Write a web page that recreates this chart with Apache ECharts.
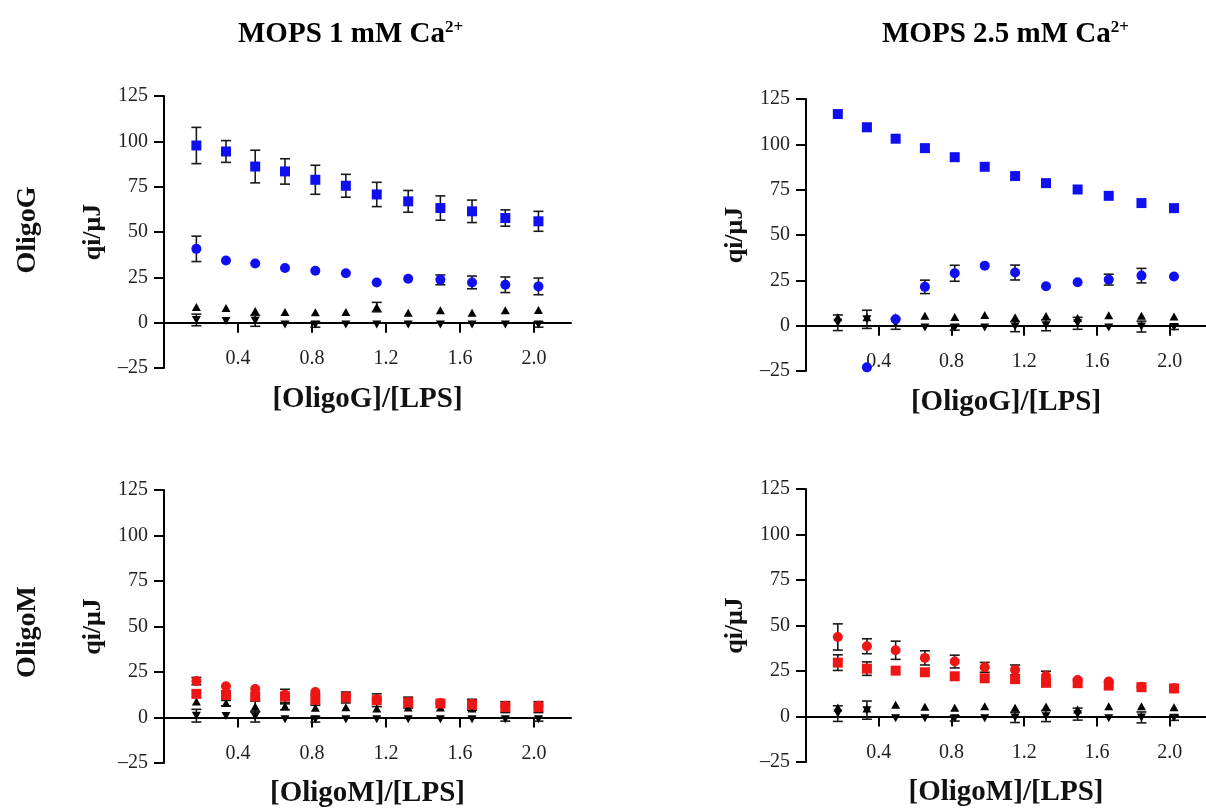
<!DOCTYPE html>
<html>
<head>
<meta charset="utf-8">
<script src="https://cdn.jsdelivr.net/npm/echarts@6/dist/echarts.min.js"></script>
<style>
html,body{margin:0;padding:0;background:#fff;}
#chart{width:1206px;height:811px;}
</style>
</head>
<body>
<div id="chart"></div>
<script>
// ---------- data ----------
const xRatio = [0.175, 0.335, 0.493, 0.654, 0.818, 0.983, 1.15, 1.32, 1.494, 1.665, 1.845, 2.024];
const xTickValues = [0.4, 0.8, 1.2, 1.6, 2.0];
const yTickValues = [-25, 0, 25, 50, 75, 100, 125];
const colTitles = ['MOPS 1 mM Ca', 'MOPS 2.5 mM Ca'];
const colTitleSup = ['2+', '2+'];
const rowLabels = ['OligoG', 'OligoM'];
const xAxisNames = ['[OligoG]/[LPS]', '[OligoM]/[LPS]'];
const yAxisName = 'qi/μJ';

// OligoG, MOPS 1 mM Ca2+
const g1Square    = [97.7, 94.4, 86.1, 83.4, 78.8, 75.5, 70.7, 66.9, 63.2, 61.4, 57.7, 55.9];
const g1SquareErr = [10, 6, 9, 7, 8, 6.3, 6.7, 6, 6.7, 6.2, 4.5, 5.5];
const g1Circle    = [40.7, 34.3, 32.6, 30.1, 28.6, 27.3, 22.2, 24.2, 23.6, 22.2, 20.9, 20.0];
const g1CircleErr = [7, 0, 0, 0, 0, 0, 0, 0, 2.7, 3.5, 4.3, 4.6];
const g1Up        = [8.6, 8.1, 6.4, 5.9, 5.7, 5.9, 8.6, 5.5, 6.8, 5.5, 6.8, 7.0];
const g1UpErr     = [0, 0, 0, 0, 0, 0, 2.6, 0, 0, 0, 0, 0];
const g1Down      = [1.5, 0.9, 1.0, -1, -1, -1, -1, -1, -1, -1, -1, -1];
const g1DownErr   = [3.2, 0, 3, 0, 1.5, 0, 0, 0, 0, 0, 0, 1.5];

// OligoG, MOPS 2.5 mM Ca2+
const g25Square    = [116.7, 109.4, 103.1, 97.9, 92.9, 87.6, 82.5, 78.6, 75.1, 71.6, 67.6, 64.8];
const g25SquareErr = [0, 2, 0, 1.8, 0, 0, 0, 0, 0, 0, 0, 0];
const g25Circle    = [null, -23, 3.5, 21.4, 28.9, 33.1, 29.3, 21.7, 23.9, 25.4, 27.6, 27.1];
const g25CircleErr = [0, 0, 0, 3.7, 4.4, 0, 4.1, 0, 0, 3, 4, 0];
const g25Up        = [4.6, 4.6, 4.6, 5.5, 4.8, 5.9, 4.6, 5.3, 4.2, 5.7, 5.5, 5.0];
const g25UpErr     = [0, 0, 0, 0, 0, 0, 0, 0, 0, 0, 0, 0];
const g25Down      = [1.6, 3.5, 1.0, -1, -1, -1, -0.5, 0.2, 1.3, -1, -0.5, -0.7];
const g25DownErr   = [4.3, 5, 3, 0, 1.5, 0, 2.8, 3, 3.3, 0, 3, 1.4];

// OligoM, MOPS 1 mM Ca2+
const m1Square    = [13, 12.4, 11.5, 11.5, 9.7, 11, 9.5, 8.2, 7.7, 7, 5.7, 5.7];
const m1SquareErr = [0, 0, 0, 4, 3, 3, 3.5, 3, 0, 3, 3, 3];
const m1Circle    = [20, 17.2, 15.7, 12.5, 14, 11.5, 10, 8.5, 8, 7.5, 6.5, 6.5];
const m1CircleErr = [2, 0, 0, 0, 0, 0, 0, 0, 0, 0, 0, 0];
const m1Up        = [8.8, 7.9, 6.0, 6.2, 5.3, 5.7, 5.0, 5.5, 5.5, 5.0, 5.0, 5.0];
const m1UpErr     = [0, 1.5, 3, 2, 0, 0, 0, 0, 0, 0, 0, 0];
const m1Down      = [1, 0.8, 0.5, -1, -1, -1, -1, -1, -1, -1, -1, -1];
const m1DownErr   = [3.5, 0, 3, 0, 1.5, 0, 0, 0, 0, 0, 1, 1];

// OligoM, MOPS 2.5 mM Ca2+
const m25Square    = [29.6, 26.3, 25.2, 24.3, 22.1, 21, 20.5, 18.5, 18.3, 17, 16.1, 15.4];
const m25SquareErr = [4.3, 3.7, 0, 0, 0, 0, 0, 0, 0, 0, 0, 0];
const m25Circle    = [43.7, 38.6, 36.4, 32.2, 30.2, 27, 25.6, 22.3, 20.1, 19.2, 16.4, 15.5];
const m25CircleErr = [7.2, 4.1, 5, 3.9, 3.5, 2.7, 2.7, 2.6, 0, 0, 0, 0];
const m25Up        = [4.9, 4.4, 6.4, 5.3, 4.8, 5.7, 4.8, 5.5, 3.8, 5.7, 5.7, 5.1];
const m25UpErr     = [0, 0, 0, 0, 0, 0, 0, 0, 0, 0, 0, 0];
const m25Down      = [1.6, 3.5, -1, -1, -1, -1, -0.5, 0.2, 1.3, -1, -0.5, -0.7];
const m25DownErr   = [4.3, 5, 0, 0, 1.5, 0, 2.8, 3, 3.3, 0, 3, 1.4];

// ---------- chart ----------
const BLUE = '#0f0fef';
const RED = '#ee1515';
const SERIF = '"Liberation Serif", "DejaVu Serif", serif';
const Y_MIN = -25, Y_MAX = 125;

const panels = [
  {grid:{left:164, top:96, width:407, height:272}, color:BLUE, xName:xAxisNames[0],
   sq:g1Square, sqE:g1SquareErr, ci:g1Circle, ciE:g1CircleErr, up:g1Up, upE:g1UpErr, dn:g1Down, dnE:g1DownErr},
  {grid:{left:806, top:99, width:407, height:272}, color:BLUE, xName:xAxisNames[0],
   sq:g25Square, sqE:g25SquareErr, ci:g25Circle, ciE:g25CircleErr, up:g25Up, upE:g25UpErr, dn:g25Down, dnE:g25DownErr},
  {grid:{left:164, top:490, width:407, height:273}, color:RED, xName:xAxisNames[1],
   sq:m1Square, sqE:m1SquareErr, ci:m1Circle, ciE:m1CircleErr, up:m1Up, upE:m1UpErr, dn:m1Down, dnE:m1DownErr},
  {grid:{left:806, top:489, width:407, height:273}, color:RED, xName:xAxisNames[1],
   sq:m25Square, sqE:m25SquareErr, ci:m25Circle, ciE:m25CircleErr, up:m25Up, upE:m25UpErr, dn:m25Down, dnE:m25DownErr}
];

function pts(vals) {
  const out = [];
  vals.forEach((v, i) => { if (v !== null && v !== undefined) out.push([xRatio[i], v]); });
  return out;
}
function errPts(vals, errs) {
  const out = [];
  vals.forEach((v, i) => { if (v !== null && errs[i] > 0) out.push([xRatio[i], v, errs[i]]); });
  return out;
}

function renderErr(params, api) {
  const x = api.value(0), y = api.value(1), e = api.value(2);
  const top = api.coord([x, y + e]);
  const bot = api.coord([x, y - e]);
  const hw = 5;
  const st = {stroke:'#1a1a1a', lineWidth:1.6};
  return {type:'group', children:[
    {type:'line', shape:{x1:top[0], y1:top[1], x2:bot[0], y2:bot[1]}, style:st},
    {type:'line', shape:{x1:top[0]-hw, y1:top[1], x2:top[0]+hw, y2:top[1]}, style:st},
    {type:'line', shape:{x1:bot[0]-hw, y1:bot[1], x2:bot[0]+hw, y2:bot[1]}, style:st}
  ]};
}

const grids = [], xAxes = [], yAxes = [], series = [];
const axisLineStyle = {color:'#000', width:2};
panels.forEach((p, i) => {
  grids.push(Object.assign({containLabel:false}, p.grid));
  // place the whole x axis (line, ticks, labels, name) on y = 0
  const zeroOffset = -p.grid.height * (0 - Y_MIN) / (Y_MAX - Y_MIN);
  xAxes.push({
    type:'value', gridIndex:i, min:0, max:2.2, position:'bottom', offset:zeroOffset,
    axisLine:{show:true, onZero:false, lineStyle:axisLineStyle},
    axisTick:{show:true, customValues:xTickValues, length:10, lineStyle:{color:'#000', width:2}},
    axisLabel:{customValues:xTickValues, formatter:v => Number(v).toFixed(1), margin:26,
      fontFamily:SERIF, fontSize:20, color:'#222'},
    splitLine:{show:false},
    name:p.xName, nameLocation:'middle', nameGap:62,
    nameTextStyle:{fontFamily:SERIF, fontWeight:'bold', fontSize:29, color:'#111'}
  });
  yAxes.push({
    type:'value', gridIndex:i, min:Y_MIN, max:Y_MAX, interval:25,
    axisLine:{show:true, onZero:false, lineStyle:axisLineStyle},
    axisTick:{show:true, length:10, lineStyle:{color:'#000', width:2}},
    axisLabel:{margin:16, fontFamily:SERIF, fontSize:20, color:'#222',
      formatter:v => String(v).replace('-', '\u2013')},
    splitLine:{show:false},
    name:yAxisName, nameLocation:'middle', nameRotate:90, nameGap:58,
    nameTextStyle:{fontFamily:SERIF, fontWeight:'bold', fontSize:26, color:'#111'}
  });
  const errData = [].concat(errPts(p.sq, p.sqE), errPts(p.ci, p.ciE), errPts(p.up, p.upE), errPts(p.dn, p.dnE));
  series.push({type:'custom', xAxisIndex:i, yAxisIndex:i, renderItem:renderErr, data:errData, z:1, silent:true, clip:false});
  series.push({type:'scatter', xAxisIndex:i, yAxisIndex:i, data:pts(p.up), symbol:'triangle', symbolSize:[9,8],
    itemStyle:{color:'#000', opacity:1}, z:2});
  series.push({type:'scatter', xAxisIndex:i, yAxisIndex:i, data:pts(p.dn), symbol:'triangle', symbolRotate:180, symbolSize:[9,8],
    itemStyle:{color:'#000', opacity:1}, z:2});
  series.push({type:'scatter', xAxisIndex:i, yAxisIndex:i, data:pts(p.ci), symbol:'circle', symbolSize:10,
    itemStyle:{color:p.color, opacity:1}, z:3});
  series.push({type:'scatter', xAxisIndex:i, yAxisIndex:i, data:pts(p.sq), symbol:'rect', symbolSize:10,
    itemStyle:{color:p.color, opacity:1}, z:3});
});

function titleText(x, y, main, sup) {
  return {type:'text', x:x, y:y, style:{
    text:'{a|' + main + '}{s|' + sup + '}',
    verticalAlign:'middle', align:'left',
    rich:{
      a:{fontFamily:SERIF, fontWeight:'bold', fontSize:29, color:'#111', lineHeight:32},
      s:{fontFamily:SERIF, fontWeight:'bold', fontSize:17, color:'#111', verticalAlign:'top', lineHeight:17}
    }
  }};
}
function rowText(x, y, txt) {
  return {type:'text', x:x, y:y, rotation:Math.PI/2, style:{
    text:txt, align:'center', verticalAlign:'middle',
    fontFamily:SERIF, fontWeight:'bold', fontSize:28, fill:'#111'
  }};
}

const chart = echarts.init(document.getElementById('chart'), null, {renderer:'canvas'});
chart.setOption({
  animation:false,
  backgroundColor:'#fff',
  grid:grids, xAxis:xAxes, yAxis:yAxes, series:series,
  graphic:[
    titleText(238, 35, colTitles[0], colTitleSup[0]),
    titleText(882, 35, colTitles[1], colTitleSup[1]),
    rowText(28, 230, rowLabels[0]),
    rowText(28, 632, rowLabels[1])
  ]
});
</script>
</body>
</html>
